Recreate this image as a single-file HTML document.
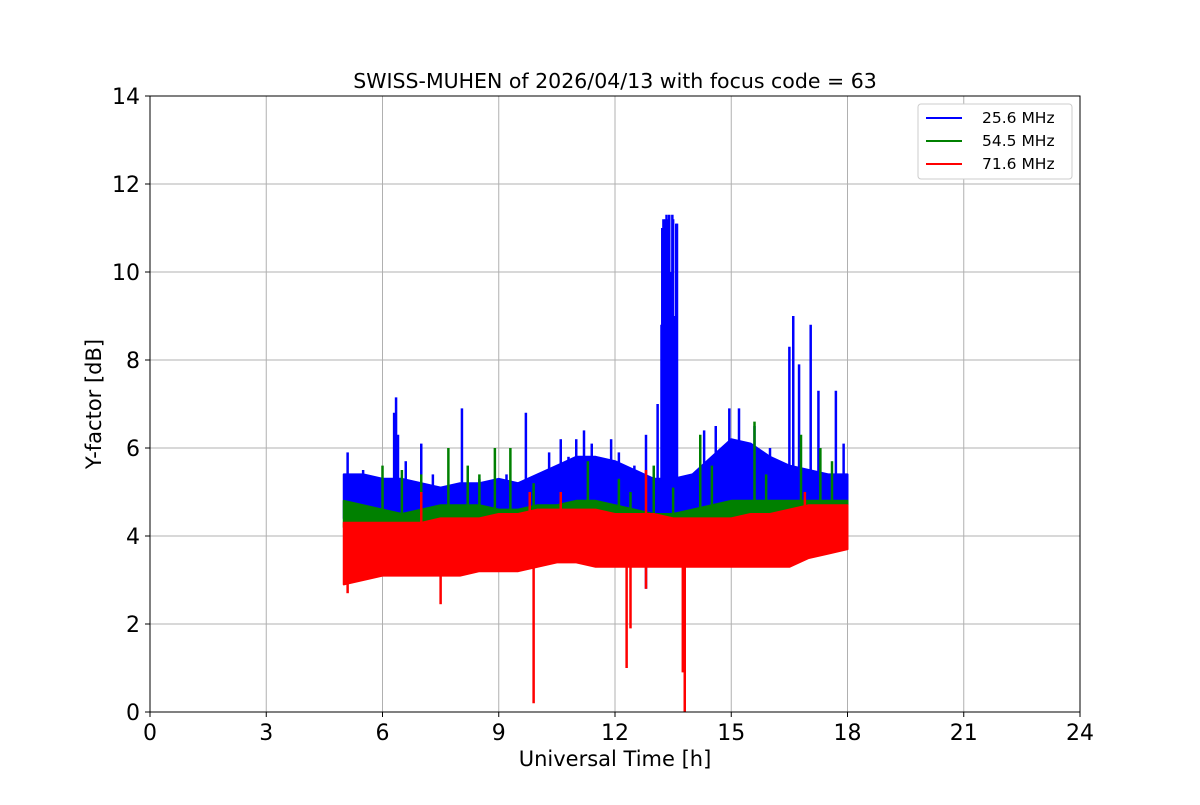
<!DOCTYPE html>
<html><head><meta charset="utf-8"><style>
body{margin:0;background:#fff;font-family:"Liberation Sans","DejaVu Sans",sans-serif}
svg text{font-family:"DejaVu Sans","Liberation Sans",sans-serif}
</style></head><body>
<svg id="chart" width="1200" height="800" viewBox="0 0 1200 800" xmlns="http://www.w3.org/2000/svg">
<rect width="1200" height="800" fill="#fff"/>
<g id="grid"></g><g id="series"></g>
<rect x="150" y="96" width="930" height="616" fill="none" stroke="#000" stroke-width="1"/>
<g id="ticks"></g>
<text x="615" y="88" font-size="20.5" text-anchor="middle">SWISS-MUHEN of 2026/04/13 with focus code = 63</text>
<text x="615" y="766" font-size="21" text-anchor="middle">Universal Time [h]</text>
<text transform="translate(101,404) rotate(-90)" font-size="21" text-anchor="middle">Y-factor [dB]</text>
<g>
<rect x="918" y="104" width="154" height="75" rx="3" fill="#fff" stroke="#ccc"/>
<line x1="926" y1="118" x2="962" y2="118" stroke="#0000ff" stroke-width="2"/><text x="982" y="123" font-size="15.5">25.6 MHz</text>
<line x1="926" y1="141" x2="962" y2="141" stroke="#008000" stroke-width="2"/><text x="982" y="146" font-size="15.5">54.5 MHz</text>
<line x1="926" y1="164" x2="962" y2="164" stroke="#ff0000" stroke-width="2"/><text x="982" y="169" font-size="15.5">71.6 MHz</text>
</g>
</svg>
<script>
const xTicks=[0,3,6,9,12,15,18,21,24];
const yTicks=[0,2,4,6,8,10,12,14];
const times=[5,5.5,6,6.5,7,7.5,8,8.5,9,9.5,10,10.5,11,11.5,12,12.5,13,13.5,14,14.5,15,15.5,16,16.5,17,17.5,18];
const blueHi=[5.4,5.4,5.3,5.3,5.2,5.1,5.2,5.2,5.3,5.2,5.4,5.6,5.8,5.8,5.7,5.5,5.3,5.3,5.4,5.8,6.2,6.1,5.8,5.6,5.5,5.4,5.4];
const blueLo=[4.4,4.4,4.4,4.4,4.4,4.4,4.4,4.4,4.4,4.4,4.4,4.5,4.5,4.5,4.4,4.4,4.4,4.4,4.4,4.5,4.5,4.5,4.5,4.5,4.5,4.5,4.5];
const greenHi=[4.8,4.7,4.6,4.5,4.6,4.7,4.7,4.7,4.6,4.6,4.7,4.7,4.8,4.8,4.7,4.6,4.5,4.5,4.6,4.7,4.8,4.8,4.8,4.8,4.8,4.8,4.8];
const greenLo=[4.2,4.2,4.2,4.2,4.2,4.2,4.3,4.3,4.3,4.3,4.3,4.3,4.3,4.3,4.3,4.3,4.3,4.3,4.3,4.3,4.3,4.3,4.3,4.3,4.3,4.3,4.3];
const redHi=[4.3,4.3,4.3,4.3,4.3,4.4,4.4,4.4,4.5,4.5,4.6,4.6,4.6,4.6,4.5,4.5,4.5,4.4,4.4,4.4,4.4,4.5,4.5,4.6,4.7,4.7,4.7];
const redLo=[2.9,3.0,3.1,3.1,3.1,3.1,3.1,3.2,3.2,3.2,3.3,3.4,3.4,3.3,3.3,3.3,3.3,3.3,3.3,3.3,3.3,3.3,3.3,3.3,3.5,3.6,3.7];
const blueSpikeT=[5.1,5.5,6.3,6.35,6.4,6.6,7,7.3,8.05,8.5,9.2,9.7,10.3,10.6,10.8,11,11.2,11.4,11.9,12.1,12.5,12.8,12.8,13.1,13.2,13.22,13.25,13.28,13.3,13.33,13.36,13.4,13.43,13.45,13.48,13.5,13.53,13.55,13.58,13.6,14.3,14.6,14.95,15.2,15.6,16,16.5,16.6,16.75,17.05,17.25,17.7,17.9];
const blueSpikeV=[5.9,5.5,6.8,7.15,6.3,5.7,6.1,5.4,6.9,5.3,5.4,6.8,5.9,6.2,5.8,6.2,6.4,6.1,6.2,5.9,5.6,6.3,2.8,7.0,8.8,11.0,11.2,10.9,11.2,11.3,11.2,11.3,6.6,10.0,11.3,11.2,9.0,7.7,11.1,11.1,6.4,6.5,6.9,6.9,6.5,6.0,8.3,9.0,7.9,8.8,7.3,7.3,6.1];
const greenSpikeT=[6.0,6.5,7.0,7.7,8.2,8.5,8.9,9.3,9.9,11.3,12.1,12.4,13.0,13.5,14.2,14.5,15.6,15.9,16.8,17.3,17.6];
const greenSpikeV=[5.6,5.5,5.4,6.0,5.6,5.4,6.0,6.0,5.2,5.7,5.3,5.0,5.6,5.1,6.3,5.6,6.6,5.4,6.3,6.0,5.7];
const redSpikeT=[5.1,7.5,9.9,12.3,12.4,13.75,13.8,12.8,7.0,9.8,10.6,12.8,16.9];
const redSpikeV=[2.7,2.45,0.2,1.0,1.9,0.9,0.0,2.8,5.0,5.0,5.0,5.5,5.0];

const NS="http://www.w3.org/2000/svg";
const X=t=>150+t/24*930, Y=v=>712-v/14*616;
function mk(tag,attrs,parent){const e=document.createElementNS(NS,tag);for(const k in attrs)e.setAttribute(k,attrs[k]);parent.appendChild(e);return e;}
const grid=document.getElementById('grid'),ticks=document.getElementById('ticks'),ser=document.getElementById('series');
xTicks.forEach(t=>{
 const g=mk('line',{x1:X(t),x2:X(t),y1:96,y2:712,stroke:'#b0b0b0','stroke-width':1},grid);
 
 mk('line',{x1:X(t),x2:X(t),y1:712,y2:717,stroke:'#000'},ticks);
 const l=mk('text',{x:X(t),y:740,'font-size':22,'text-anchor':'middle'},ticks);l.textContent=t;
 
});
yTicks.forEach(v=>{
 const g=mk('line',{x1:150,x2:1080,y1:Y(v),y2:Y(v),stroke:'#b0b0b0','stroke-width':1},grid);
 
 mk('line',{x1:145,x2:150,y1:Y(v),y2:Y(v),stroke:'#000'},ticks);
 const l=mk('text',{x:140,y:Y(v)+8,'font-size':22,'text-anchor':'end'},ticks);l.textContent=v;
 
});
function interp(arr,t){if(t<=times[0])return arr[0];for(let i=1;i<times.length;i++){if(t<=times[i]){const f=(t-times[i-1])/(times[i]-times[i-1]);return arr[i-1]+f*(arr[i]-arr[i-1]);}}return arr[arr.length-1];}
function series(name,color,hi,lo,st,sv){
 const g=mk('g',{},ser);
 let pts=times.map((t,i)=>X(t)+','+Y(hi[i]));
 for(let i=times.length-1;i>=0;i--)pts.push(X(times[i])+','+Y(lo[i]));
 const p=mk('polygon',{points:pts.join(' '),fill:color,stroke:color,'stroke-width':2,'stroke-linejoin':'round'},g);
 
 st.forEach((t,i)=>{const v=sv[i];const base=(interp(hi,t)+interp(lo,t))/2;
  const s=mk('line',{x1:X(t),x2:X(t),y1:Y(base),y2:Y(v),stroke:color,'stroke-width':2.5},g);
  });
}
series('series-25-6-mhz','#0000ff',blueHi,blueLo,blueSpikeT,blueSpikeV);
series('series-54-5-mhz','#008000',greenHi,greenLo,greenSpikeT,greenSpikeV);
series('series-71-6-mhz','#ff0000',redHi,redLo,redSpikeT,redSpikeV);
</script>
</body></html>
